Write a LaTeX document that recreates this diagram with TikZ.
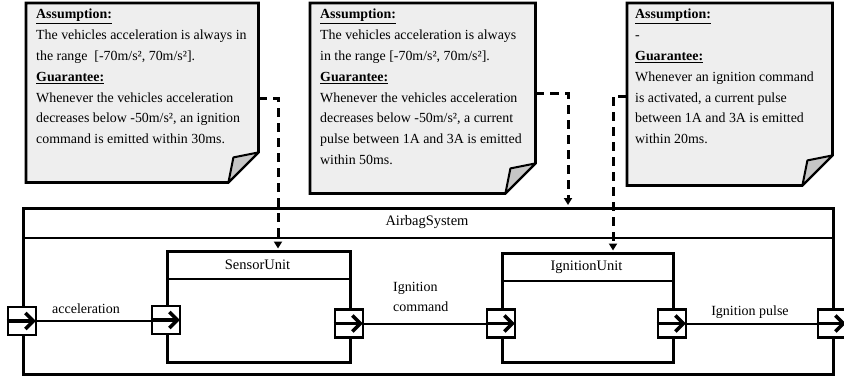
\documentclass[tikz,border=0pt]{standalone}
\usepackage{fontspec}
\setmainfont{Liberation Serif}
\usetikzlibrary{arrows.meta,calc}
\begin{document}
\begin{tikzpicture}[x=1pt,y=-1pt,
  box/.style={draw,line width=2.7pt,inner sep=0pt,anchor=north west},
  notebox/.style={inner sep=0pt,anchor=north west},
  notetext/.style={anchor=north west,align=left,inner sep=0pt,font=\fontsize{13.9}{20.8}\selectfont},
  port/.style={draw,fill=white,line width=2.7pt,minimum width=28,minimum height=28,inner sep=0pt},
  portarrow/.style={line width=3.6pt,-{Straight Barb[length=8pt,width=16pt,line width=3.6pt]}},
  flow/.style={line width=2pt},
  dep/.style={line width=3pt,dash pattern=on 9pt off 6pt,-{Triangle[length=7pt,width=8pt]}},
  ttl/.style={font=\fontsize{14.5}{16}\selectfont,inner sep=0pt},
  lbl/.style={font=\fontsize{14}{20.5}\selectfont,inner sep=0pt,align=left},
  notefill/.style={fill=gray!13,draw,line width=2.7pt,line join=miter},
  foldfill/.style={fill=gray!45,draw,line width=2pt,line join=round}
]
\useasboundingbox (0,0) rectangle (844,376);
\newcommand{\hd}[1]{\textbf{\underline{#1}}}
\newcommand{\notedraw}[1]{%
  \draw[notefill] (#1.north west) -- (#1.north east) -- ($(#1.south east)+(0,-30)$) -- ($(#1.south east)+(-30,0)$) -- (#1.south west) -- cycle;
  \draw[foldfill] ($(#1.south east)+(-30,0)$) .. controls ($(#1.south east)+(-28,-12)$) .. ($(#1.south east)+(-25,-25)$) -- ($(#1.south east)+(0,-30)$) -- cycle;}

% notes
\node[notebox,minimum width=232,minimum height=179] (n1) at (26,3) {};
\node[notebox,minimum width=225,minimum height=190] (n2) at (310,3) {};
\node[notebox,minimum width=205,minimum height=182] (n3) at (627,3) {};
\notedraw{n1}\notedraw{n2}\notedraw{n3}
\node[notetext] (t1) at ($(n1.north west)+(10,6)$) {\hd{Assumption:}\\The vehicles acceleration is always in\\the range\ \ [-70m/s², 70m/s²].\\\hd{Guarantee:}\\Whenever the vehicles acceleration\\decreases below -50m/s², an ignition\\command is emitted within 30ms.};
\node[notetext] (t2) at ($(n2.north west)+(10,6)$) {\hd{Assumption:}\\The vehicles acceleration is always\\in the range [-70m/s², 70m/s²].\\\hd{Guarantee:}\\Whenever the vehicles acceleration\\decreases below -50m/s², a current\\pulse between 1A and 3A is emitted\\within 50ms.};
\node[notetext] (t3) at ($(n3.north west)+(8,6)$) {\hd{Assumption:}\\-\\\hd{Guarantee:}\\Whenever an ignition command\\is activated, a current pulse\\between 1A and 3A is emitted\\within 20ms.};

% system
\node[box,minimum width=810,minimum height=166] (sys) at (22,207) {};
\draw[line width=2.7pt] (22,238) -- (832,238);
\node[ttl] (systitle) at (427,222) {AirbagSystem};

\node[box,minimum width=183,minimum height=111] (sen) at (166,250) {};
\draw[line width=2.7pt] (sen.west |- 0,279) -- (sen.east |- 0,279);
\node[ttl] (sentitle) at (257.5,265) {SensorUnit};

\node[box,minimum width=171,minimum height=109] (ign) at (501,252) {};
\draw[line width=2.7pt] (ign.west |- 0,281) -- (ign.east |- 0,281);
\node[ttl] (igntitle) at (586.5,267) {IgnitionUnit};

% ports
\node[port] (p0) at (22,321) {};
\node[port] (p1) at (166,320) {};
\node[port] (p2) at (349,323.5) {};
\node[port] (p3) at (501,323.5) {};
\node[port] (p4) at (672,323.5) {};
\node[port] (p5) at (832,323.5) {};

\draw[flow] (p0.east) -- (p1.west |- p0.east);
\draw[flow] (p2.east) -- (p3.west);
\draw[flow] (p4.east) -- (p5.west);
\foreach \p in {p0,p1,p2,p3,p4,p5}{\draw[portarrow] (\p.west) -- ([xshift=-1.5pt]\p.east);}

\node[lbl,anchor=south] (la) at (86,314) {acceleration};
\node[lbl,anchor=north west] (lc) at (393,282) {Ignition\\command};
\node[lbl,anchor=south] (lp) at (750,319) {Ignition pulse};

% dependencies
\draw[dep] ($(n1.north east)+(0,95)$) -| ($(sen.north west)+(112,-1.5)$);
\draw[dep] ($(n2.north east)+(0,90)$) -| ($(sys.north west)+(546,-2)$);
\draw[dep] ($(n3.north west)+(0,93)$) -| ($(ign.north west)+(112,-1.5)$);
\end{tikzpicture}
\end{document}
